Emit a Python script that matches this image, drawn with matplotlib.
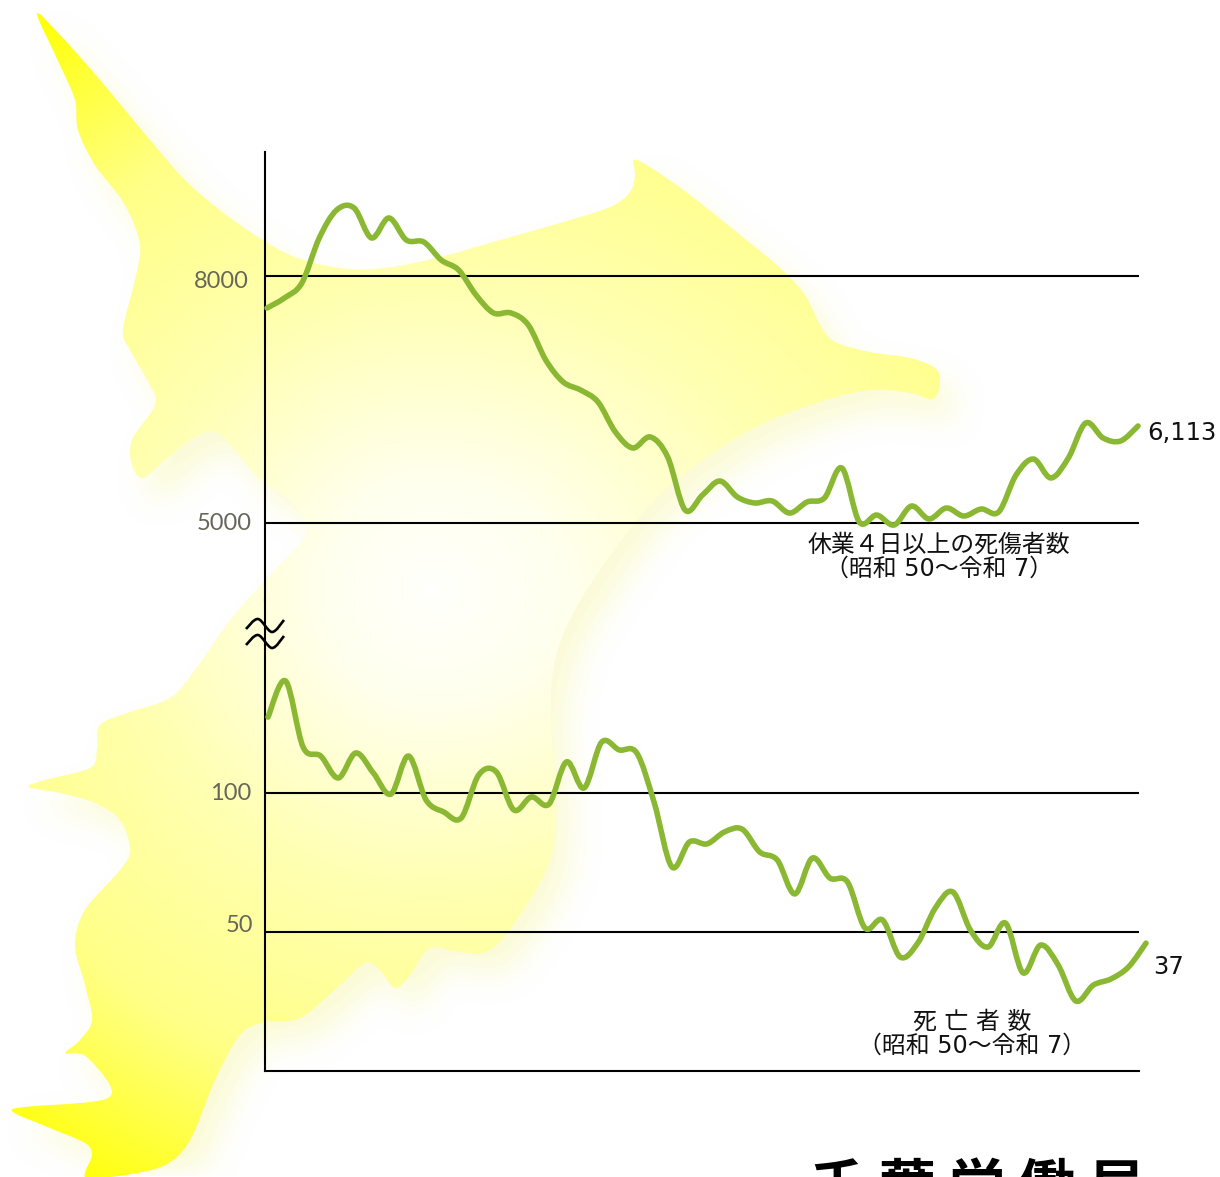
import numpy as np
from matplotlib import pyplot as plt
from matplotlib.path import Path
from matplotlib.patches import PathPatch

W, H = 1220, 1177

# Showa 50 .. Reiwa 7
years = list(range(1975, 2026))

# injured, 4+ days off work
injured = [7611, 7733, 7915, 8462, 8802, 8826, 8462, 8705, 8437, 8413,
           8194, 8073, 7769, 7551, 7551, 7405, 6980, 6713, 6615, 6470,
           6105, 5911, 6045, 5802, 5158, 5340, 5510, 5316, 5243, 5267,
           5121, 5255, 5304, 5668, 5012, 5097, 4976, 5206, 5049, 5182,
           5085, 5170, 5134, 5583, 5777, 5547, 5789, 6215, 6032, 5996,
           6178]
# deaths
deaths = [127.3, 140.3, 116.5, 113.3, 105.4, 114.4, 107.2, 99.6, 113.3, 97.5,
          93.2, 91.0, 106.5, 107.6, 93.9, 98.6, 96.0, 111.2, 101.8, 118.3,
          115.5, 114.4, 96.4, 73.4, 82.4, 81.7, 86.0, 87.0, 78.8, 75.9,
          63.7, 76.6, 69.4, 68.0, 51.4, 54.3, 41.0, 46.0, 58.6, 64.4,
          50.7, 44.6, 53.2, 35.3, 45.3, 38.1, 25.2, 30.9, 33.1, 37.4,
          46.0]

upper_ticks = [8000, 5000]
lower_ticks = [100, 50]
upper_end_label = "6,113"
lower_end_label = "37"
upper_name = ["休業４日以上の死傷者数", "（昭和 50～令和 7）"]
lower_name = ["死 亡 者 数", "（昭和 50～令和 7）"]
source_name = "千 葉 労 働 局"

# outline of the prefecture behind the chart, in picture pixels
coast = [(37, 14), (60, 35), (100, 80), (150, 140), (190, 185), (240, 225),
         (290, 255), (340, 268), (385, 268), (440, 257), (500, 240), (560, 223),
         (610, 207), (630, 192), (635, 175), (634, 160), (650, 167), (690, 195),
         (740, 235), (780, 268), (805, 295), (820, 325), (835, 342), (870, 352),
         (910, 358), (935, 368), (940, 382), (933, 399), (910, 393), (870, 390),
         (820, 402), (760, 425), (700, 462), (650, 505), (600, 570), (565, 630),
         (552, 680), (552, 740), (556, 800), (550, 860), (520, 915), (490, 950),
         (460, 952), (430, 948), (410, 975), (395, 988), (380, 970), (365, 963),
         (340, 985), (300, 1018), (265, 1022), (240, 1035), (215, 1080),
         (190, 1140), (165, 1165), (125, 1175), (88, 1178), (86, 1170), (92, 1155),
         (85, 1143), (50, 1128), (13, 1112), (25, 1107), (80, 1103), (108, 1098),
         (110, 1085), (90, 1060), (78, 1053), (65, 1053), (80, 1040), (92, 1020),
         (85, 985), (75, 945), (85, 910), (120, 870), (130, 850), (120, 820),
         (95, 803), (60, 793), (29, 787), (45, 780), (90, 768), (97, 750),
         (100, 725), (130, 712), (170, 698), (195, 670), (230, 620), (270, 575),
         (303, 540), (307, 525), (290, 500), (260, 480), (235, 450), (215, 432),
         (195, 437), (165, 460), (143, 478), (132, 465), (132, 440), (155, 405),
         (150, 385), (130, 350), (123, 330), (135, 280), (140, 245), (125, 205),
         (95, 165), (78, 130), (75, 100), (60, 65)]

GREEN = "#8ab833"
FONT = ["DejaVu Sans", "Noto Sans CJK JP"]


def smooth_path(xs, ys, closed=False):
    # catmull-rom through the points, as bezier segments
    xs = np.asarray(xs, float)
    ys = np.asarray(ys, float)
    n = len(xs)
    verts = [(xs[0], ys[0])]
    codes = [Path.MOVETO]
    for i in range(n if closed else n - 1):
        if closed:
            a, b, c, d = (i - 1) % n, i, (i + 1) % n, (i + 2) % n
        else:
            a, b, c, d = max(i - 1, 0), i, i + 1, min(i + 2, n - 1)
        verts.append((xs[b] + (xs[c] - xs[a]) / 6, ys[b] + (ys[c] - ys[a]) / 6))
        verts.append((xs[c] - (xs[d] - xs[b]) / 6, ys[c] - (ys[d] - ys[b]) / 6))
        verts.append((xs[c], ys[c]))
        codes += [Path.CURVE4] * 3
    return Path(verts, codes)


def box_blur(a, r):
    # one pass along each axis
    for axis in (0, 1):
        c = np.cumsum(a, axis=axis)
        c = np.insert(c, 0, 0, axis=axis)
        n = a.shape[axis]
        lo = np.clip(np.arange(n) - r, 0, n)
        hi = np.clip(np.arange(n) + r + 1, 0, n)
        a = (np.take(c, hi, axis=axis) - np.take(c, lo, axis=axis)) / (2 * r + 1)
    return a


def px_axes(left, top, right, bottom):
    return fig.add_axes([left / W, 1 - bottom / H, (right - left) / W, (bottom - top) / H])


fig = plt.figure(figsize=(W / 100, H / 100), dpi=100)

# background map
bg = fig.add_axes([0, 0, 1, 1], zorder=0)
cx = np.array([p[0] for p in coast])
cy = np.array([p[1] for p in coast])
land_path = smooth_path(cx, cy, closed=True)

# soft shadow, worked out on a coarse grid (one cell = 4 px)
gy, gx = np.mgrid[0:H // 4 + 1, 0:W // 4 + 1]
grid = np.column_stack([gx.ravel() * 4, gy.ravel() * 4])
mask = smooth_path(cx + 16, cy + 20, closed=True).to_polygons()[0]
mask = Path(mask).contains_points(grid).reshape(gx.shape).astype(float)
for _ in range(3):
    mask = box_blur(mask, 3)
shadow = np.zeros(mask.shape + (4,))
shadow[..., :3] = (0.98, 0.98, 0.74)
shadow[..., 3] = mask * 0.6
bg.imshow(shadow, extent=(0, gx.max() * 4, gy.max() * 4, 0), zorder=1, aspect="auto",
          interpolation="bilinear")

yy, xx = np.mgrid[0:H, 0:W]
dist = np.hypot(np.where(xx > 430, (xx - 430) * 0.8, xx - 430), yy - 590)
blue = np.interp(dist, [0, 110, 300, 500, 600, 700], [252, 238, 178, 135, 70, 0])
grad = np.dstack([np.full_like(blue, 255), np.full_like(blue, 255), blue]).astype(np.uint8)
im = bg.imshow(grad, extent=(0, W, H, 0), zorder=3, aspect="auto")
im.set_clip_path(land_path, transform=bg.transData)
bg.set_xlim(0, W)
bg.set_ylim(H, 0)
bg.axis("off")

# upper panel: 8000 at y=276, 5000 at y=523
up_per_px = 3000 / 247
ax_up = px_axes(265, 152, 1139, 600)
ax_up.set_ylim(5000 - 77 * up_per_px, 5000 + 371 * up_per_px)
ax_up.set_xlim(1975 - 2 / 17.42, 2025 + 1 / 17.42)

# lower panel: 0 at y=1071, 100 at y=793
lo_per_px = 100 / 278
ax_lo = px_axes(265, 600, 1139, 1071)
ax_lo.set_ylim(0, 471 * lo_per_px)
ax_lo.set_xlim(1975 - 3 / 17.56, 2025 - 7 / 17.56)

for ax, ticks, series in ((ax_up, upper_ticks, injured), (ax_lo, lower_ticks, deaths)):
    ax.set_zorder(2)
    ax.patch.set_visible(False)
    for s in ("top", "right", "bottom"):
        ax.spines[s].set_visible(False)
    ax.spines["left"].set_linewidth(1.5)
    ax.set_xticks([])
    ax.set_yticks([])
    for t in ticks:
        ax.axhline(t, color="black", lw=1.5, zorder=2)
    ax.add_patch(PathPatch(smooth_path(years, series), facecolor="none", edgecolor=GREEN,
                           lw=4.0, capstyle="round", joinstyle="round", clip_on=False, zorder=3))
ax_lo.spines["bottom"].set_visible(True)
ax_lo.spines["bottom"].set_linewidth(1.5)

# tick labels sit a bit off their lines in the original
offsets = {8000: (-16, -5), 5000: (-13, -1), 100: (-14, 0), 50: (-12, 6)}
for ax, ticks in ((ax_up, upper_ticks), (ax_lo, lower_ticks)):
    for t in ticks:
        ax.annotate(str(t), xy=(0, t), xycoords=ax.get_yaxis_transform(),
                    xytext=offsets[t], textcoords="offset pixels", ha="right", va="center",
                    fontsize=17, color="#66665a", family="Lato")

# everything below is placed in picture pixels
fg = fig.add_axes([0, 0, 1, 1], zorder=3)
fg.set_xlim(0, W)
fg.set_ylim(H, 0)
fg.axis("off")

# axis break mark
for ys in ([629, 619, 632, 620], [645, 635, 648, 636]):
    fg.add_patch(PathPatch(smooth_path([246, 258, 272, 284], ys), facecolor="none",
                           edgecolor="black", lw=1.9))

txt = dict(ha="center", va="center", fontsize=17.2, color="#111111", family=FONT)
fg.text(939, 545, upper_name[0], **txt)
fg.text(939, 569, upper_name[1], **txt)
fg.text(972, 1022, lower_name[0], **txt)
fg.text(972, 1046, lower_name[1], **txt)
fg.text(1147, 433, upper_end_label, ha="left", va="center", fontsize=17.5, color="#111111", family=FONT)
fg.text(1153, 967, lower_end_label, ha="left", va="center", fontsize=17.5, color="#111111", family=FONT)
fg.text(977, 1160, source_name, ha="center", va="top", fontsize=41, fontweight="bold",
        color="black", family="Noto Sans CJK JP", clip_on=False)

plt.savefig("out.png", dpi=100)
